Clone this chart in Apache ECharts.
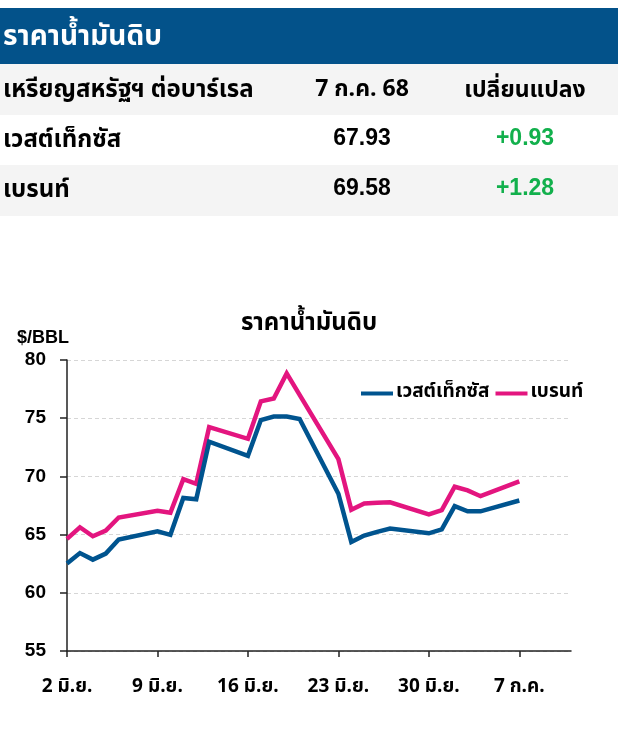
<!DOCTYPE html>
<html>
<head>
<meta charset="utf-8">
<script src="https://cdn.jsdelivr.net/npm/echarts@6/dist/echarts.min.js"></script>
<style>
  html, body { margin: 0; padding: 0; background: #fff; }
  #chart { width: 618px; height: 732px; }
</style>
</head>
<body>
<div id="chart"></div>
<script>
// Crude oil settlement prices (USD per barrel), trading days Jun 2 – Jul 7, 2025
const tradeDates = [
  '2025-06-02','2025-06-03','2025-06-04','2025-06-05','2025-06-06',
  '2025-06-09','2025-06-10','2025-06-11','2025-06-12','2025-06-13',
  '2025-06-16','2025-06-17','2025-06-18','2025-06-19','2025-06-20',
  '2025-06-23','2025-06-24','2025-06-25','2025-06-26','2025-06-27',
  '2025-06-30','2025-07-01','2025-07-02','2025-07-03','2025-07-04',
  '2025-07-07'
];
const wti = [
  62.52, 63.41, 62.85, 63.37, 64.58,
  65.29, 64.98, 68.15, 68.04, 72.98,
  71.77, 74.84, 75.14, 75.14, 74.93,
  68.51, 64.37, 64.92, 65.24, 65.52,
  65.11, 65.45, 67.45, 67.00, 67.00,
  67.93
];
const brent = [
  64.63, 65.63, 64.86, 65.34, 66.47,
  67.04, 66.87, 69.77, 69.36, 74.23,
  73.23, 76.45, 76.70, 78.85, 77.01,
  71.48, 67.14, 67.68, 67.73, 67.77,
  66.74, 67.11, 69.11, 68.80, 68.30,
  69.58
];
const seriesNames = ['เวสต์เท็กซัส', 'เบรนท์'];
const tickDays = [0, 7, 14, 21, 28, 35];
const tickLabels = ['2 มิ.ย.', '9 มิ.ย.', '16 มิ.ย.', '23 มิ.ย.', '30 มิ.ย.', '7 ก.ค.'];
const yTicks = { min: 55, max: 80, step: 5 };
const tableTitle = 'ราคาน้ำมันดิบ';
const tableHeader = ['เหรียญสหรัฐฯ ต่อบาร์เรล', '7 ก.ค. 68', 'เปลี่ยนแปลง'];
const chartTitle = 'ราคาน้ำมันดิบ';
const unitLabel = '$/BBL';

const FONT = "'Noto Sans Thai', 'Noto Sans', 'Liberation Sans', Arial, sans-serif";
const NUMFONT = "'Liberation Sans', Arial, 'Noto Sans', sans-serif";
const BLUE = '#00548f';
const PINK = '#e3157f';

// x position = days since the first trading date
const DAY = 86400000;
const t0 = Date.parse(tradeDates[0]);
const dayIndex = tradeDates.map(d => Math.round((Date.parse(d) - t0) / DAY));
const toPoints = vals => vals.map((v, i) => [dayIndex[i], v]);

// table rows: last close and day-over-day change, from the series
const rows = [wti, brent].map((vals, i) => {
  const last = vals[vals.length - 1];
  const prev = vals[vals.length - 2];
  const chg = last - prev;
  return {
    name: seriesNames[i],
    price: last.toFixed(2),
    change: (chg >= 0 ? '+' : '') + chg.toFixed(2)
  };
});

// table drawing
const tableGraphics = [];
tableGraphics.push({ type: 'rect', shape: { x: 0, y: 8, width: 618, height: 56 }, style: { fill: '#03528a' } });
tableGraphics.push({ type: 'text', x: 3, y: 39, style: { text: tableTitle, fill: '#fff', font: `bold 28px ${FONT}`, verticalAlign: 'middle' } });
const rowTop = [64, 115, 165];
const rowH = [51, 50, 51];
const rowFill = ['#f4f4f4', '#ffffff', '#f4f4f4'];
rowTop.forEach((y, i) => {
  tableGraphics.push({ type: 'rect', shape: { x: 0, y: y, width: 618, height: rowH[i] }, style: { fill: rowFill[i] } });
});
const colX = [3, 362, 525];
const thaiRow = `bold 24px ${FONT}`;
const numRow = `bold 23px ${NUMFONT}`;
tableGraphics.push({ type: 'text', x: colX[0], y: 92, style: { text: tableHeader[0], fill: '#000', font: thaiRow, verticalAlign: 'middle' } });
tableGraphics.push({ type: 'text', x: colX[1], y: 91, style: { text: tableHeader[1], fill: '#000', font: `bold 23px ${FONT}`, align: 'center', verticalAlign: 'middle' } });
tableGraphics.push({ type: 'text', x: colX[2], y: 92, style: { text: tableHeader[2], fill: '#000', font: `bold 23px ${FONT}`, align: 'center', verticalAlign: 'middle' } });
rows.forEach((r, i) => {
  const y = [139, 189][i];
  tableGraphics.push({ type: 'text', x: colX[0], y: y + 3, style: { text: r.name, fill: '#000', font: thaiRow, verticalAlign: 'middle' } });
  tableGraphics.push({ type: 'text', x: colX[1], y: y, style: { text: r.price, fill: '#000', font: numRow, align: 'center', verticalAlign: 'middle' } });
  tableGraphics.push({ type: 'text', x: colX[2], y: y, style: { text: r.change, fill: '#12b04c', font: numRow, align: 'center', verticalAlign: 'middle' } });
});
tableGraphics.push({ type: 'text', x: 17, y: 338, style: { text: unitLabel, fill: '#000', font: `bold 18px ${NUMFONT}`, verticalAlign: 'middle' } });

const chart = echarts.init(document.getElementById('chart'), null, { renderer: 'canvas' });
chart.setOption({
  backgroundColor: '#fff',
  animation: false,
  title: {
    text: chartTitle,
    left: 'center',
    top: 308,
    textStyle: { fontFamily: FONT, fontSize: 24, fontWeight: 'bold', color: '#000' }
  },
  legend: {
    data: seriesNames,
    left: 356,
    top: 379,
    icon: 'rect',
    itemWidth: 32,
    itemHeight: 4,
    itemGap: 6,
    textStyle: { fontFamily: FONT, fontSize: 19, fontWeight: 'bold', color: '#000', padding: [0, 0, 0, -2] }
  },
  grid: { left: 67, right: 47, top: 360, bottom: 81 },
  xAxis: {
    type: 'value',
    min: 0,
    max: 39,
    interval: 7,
    axisLine: { show: true, lineStyle: { color: '#222', width: 1.5 } },
    axisTick: { show: true, length: 6, customValues: tickDays, lineStyle: { color: '#222', width: 1.5 } },
    axisLabel: {
      customValues: tickDays,
      margin: 28,
      fontFamily: FONT, fontSize: 19, fontWeight: 'bold', color: '#000',
      formatter: v => tickLabels[tickDays.indexOf(v)] || ''
    },
    splitLine: { show: false }
  },
  yAxis: {
    type: 'value',
    min: yTicks.min,
    max: yTicks.max,
    interval: yTicks.step,
    axisLine: { show: true, onZero: false, lineStyle: { color: '#222', width: 1.5 } },
    axisTick: { show: true, length: 7, lineStyle: { color: '#222', width: 1.5 } },
    axisLabel: { margin: 21, fontFamily: NUMFONT, fontSize: 19, fontWeight: 'bold', color: '#000' },
    splitLine: { show: true, lineStyle: { color: '#d6d6d6', type: [4, 3], width: 1 } }
  },
  series: [
    {
      name: seriesNames[0], type: 'line', data: toPoints(wti),
      showSymbol: false, symbol: 'none',
      lineStyle: { color: BLUE, width: 4.5, join: 'miter' }, itemStyle: { color: BLUE }, z: 3
    },
    {
      name: seriesNames[1], type: 'line', data: toPoints(brent),
      showSymbol: false, symbol: 'none',
      lineStyle: { color: PINK, width: 4.5, join: 'miter' }, itemStyle: { color: PINK }, z: 2
    }
  ],
  graphic: tableGraphics
});
</script>
</body>
</html>
